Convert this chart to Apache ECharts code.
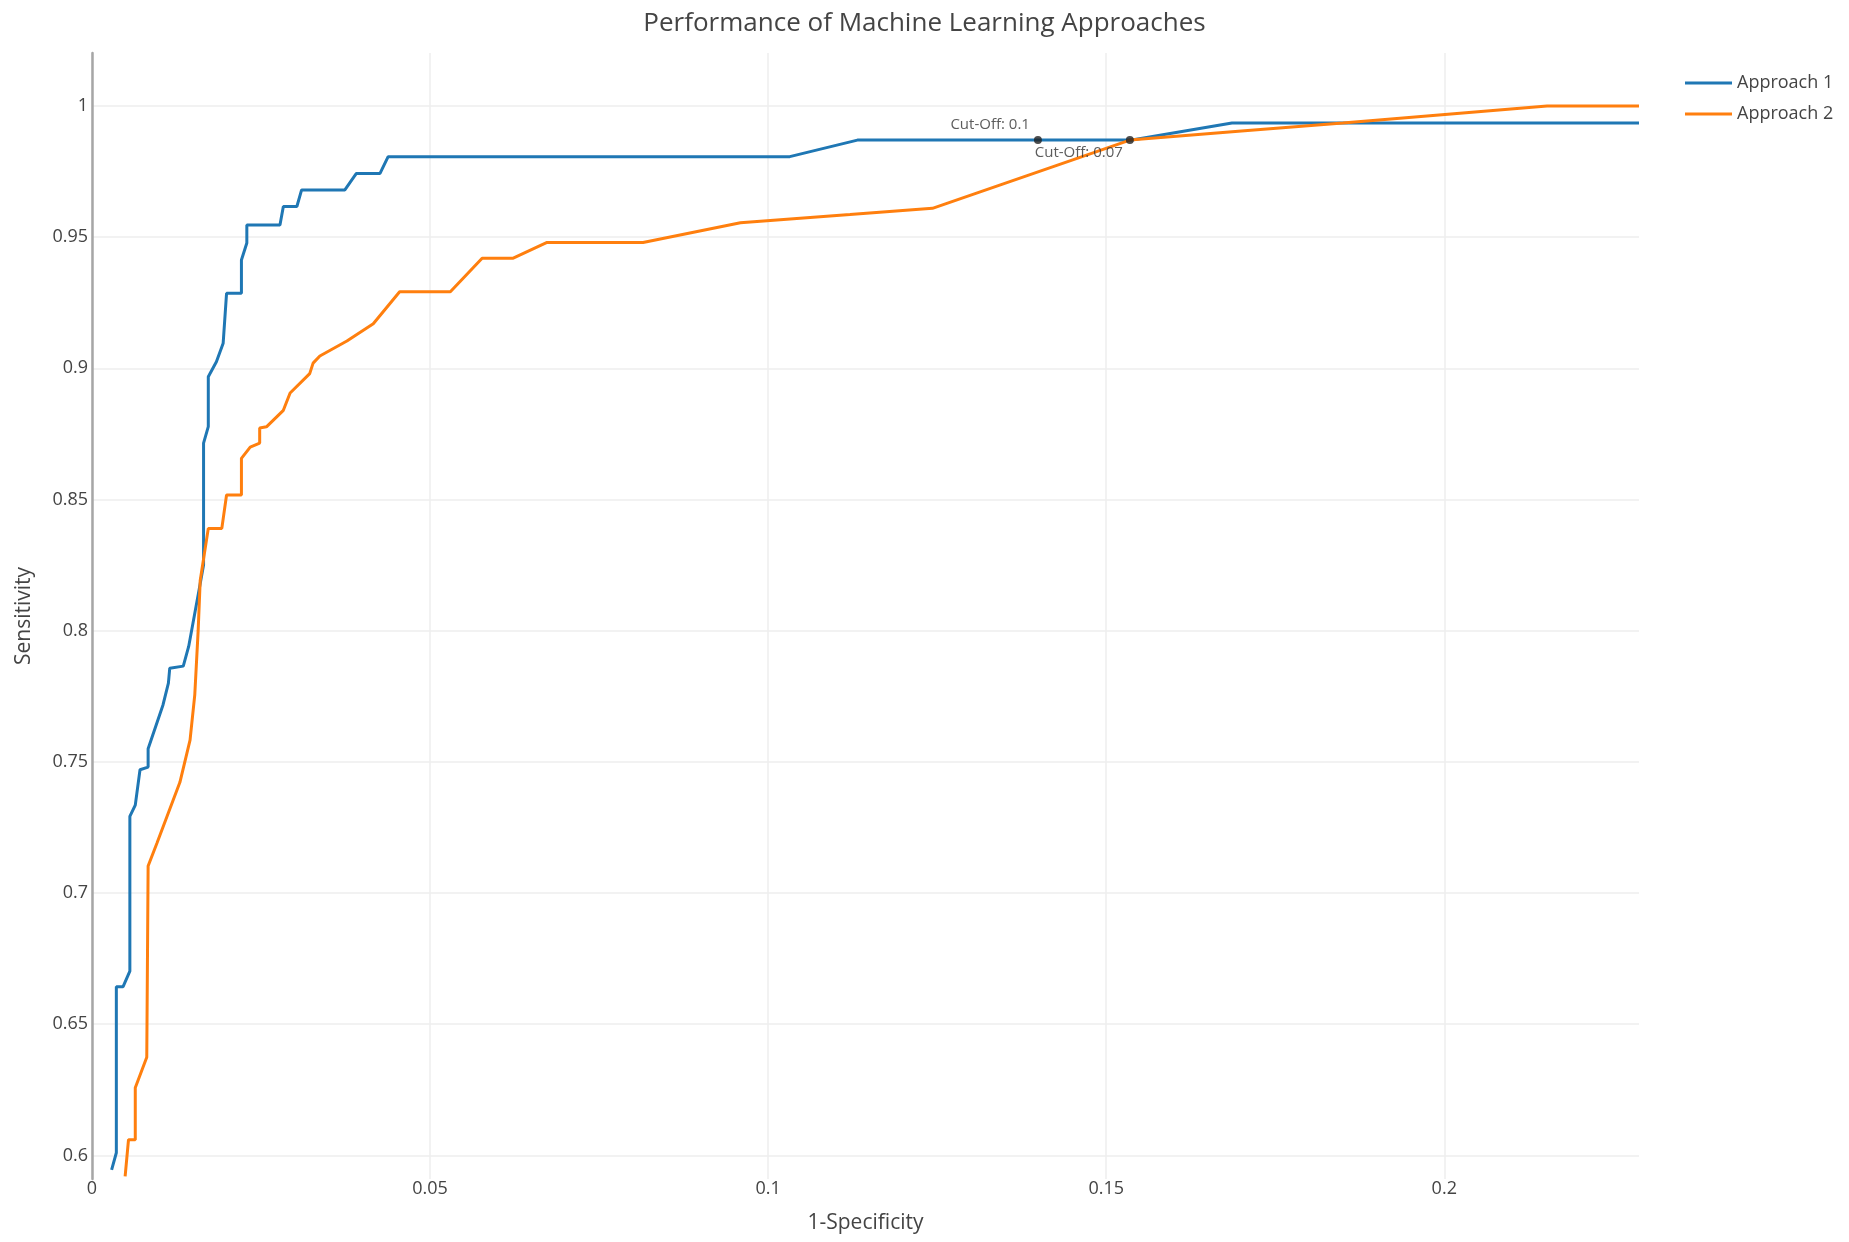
<!DOCTYPE html>
<html>
<head>
<meta charset="utf-8">
<script src="https://cdn.jsdelivr.net/npm/echarts@6/dist/echarts.min.js"></script>
<style>
html,body{margin:0;padding:0;background:#fff;}
#chart{width:1849px;height:1242px;}
</style>
</head>
<body>
<div id="chart"></div>
<script>
// Approach 1 (1-Specificity, Sensitivity)
var approach1X = [0.0029, 0.0036, 0.0036, 0.0046, 0.0056, 0.0056, 0.0064, 0.0071, 0.0083, 0.0083, 0.0105, 0.0113, 0.0115, 0.0135, 0.0143, 0.0158, 0.0165, 0.0165, 0.0172, 0.0172, 0.0184, 0.0194, 0.0199, 0.0221, 0.0221, 0.0229, 0.0229, 0.0278, 0.0283, 0.0303, 0.0310, 0.0374, 0.0391, 0.0426, 0.0438, 0.1032, 0.1132, 0.1538, 0.1686, 0.2288];
var approach1Y = [0.5945, 0.601, 0.6643, 0.6643, 0.6702, 0.7292, 0.7335, 0.747, 0.748, 0.755, 0.7717, 0.78, 0.7857, 0.7865, 0.794, 0.815, 0.825, 0.8715, 0.8778, 0.8968, 0.9025, 0.9096, 0.9286, 0.9286, 0.9413, 0.9478, 0.9546, 0.9546, 0.9617, 0.9617, 0.968, 0.968, 0.9743, 0.9743, 0.9807, 0.9807, 0.987, 0.987, 0.9935, 0.9935];
// Approach 2
var approach2X = [0.0049, 0.0054, 0.0064, 0.0064, 0.0081, 0.0083, 0.0096, 0.0130, 0.0145, 0.0152, 0.0157, 0.0160, 0.0172, 0.0192, 0.0199, 0.0221, 0.0221, 0.0234, 0.0248, 0.0248, 0.0258, 0.0283, 0.0293, 0.0322, 0.0327, 0.0337, 0.0377, 0.0416, 0.0455, 0.0530, 0.0577, 0.0623, 0.0673, 0.0815, 0.0959, 0.1121, 0.1243, 0.1535, 0.1700, 0.1850, 0.2152, 0.2288];
var approach2Y = [0.592, 0.606, 0.606, 0.6258, 0.6374, 0.7103, 0.719, 0.7422, 0.7583, 0.7755, 0.80, 0.819, 0.839, 0.839, 0.8517, 0.8517, 0.8657, 0.870, 0.8715, 0.8773, 0.8777, 0.884, 0.8906, 0.898, 0.902, 0.9047, 0.9104, 0.917, 0.9292, 0.9292, 0.942, 0.942, 0.948, 0.948, 0.9555, 0.9586, 0.961, 0.987, 0.9905, 0.9935, 1.0, 1.0];
// Cut-off points
var cutX = [0.1399, 0.1535];
var cutY = [0.987, 0.987];
var cutLabels = ['Cut-Off: 0.1', 'Cut-Off: 0.07'];
// Tick labels
var xTicks = [0, 0.05, 0.1, 0.15, 0.2];
var yTicks = [0.6, 0.65, 0.7, 0.75, 0.8, 0.85, 0.9, 0.95, 1];
var seriesNames = ['Approach 1', 'Approach 2'];

function zip(xs, ys) { return xs.map(function (x, i) { return [x, ys[i]]; }); }

var FONT = '"Open Sans", "Noto Sans", sans-serif';
var chart = echarts.init(document.getElementById('chart'), null, {renderer: 'canvas'});
var cutLabelCfg = [
  {position: 'left', distance: 4, offset: [0, -15]},
  {position: 'left', distance: 3, offset: [0, 13]}
];
chart.setOption({
  animation: false,
  backgroundColor: '#fff',
  textStyle: {fontFamily: FONT},
  title: {
    text: 'Performance of Machine Learning Approaches',
    left: 'center', top: 11, padding: 0,
    textStyle: {fontFamily: FONT, fontSize: 26, fontWeight: 'normal', color: '#444'}
  },
  legend: {
    data: seriesNames,
    orient: 'vertical',
    left: 1680, top: 68,
    itemWidth: 47, itemHeight: 3, itemGap: 11,
    icon: 'rect',
    textStyle: {fontFamily: FONT, fontSize: 18, color: '#444', lineHeight: 20}
  },
  grid: {left: 92, right: 210, top: 53, bottom: 63, containLabel: false},
  xAxis: {
    type: 'value', min: 0, max: 0.2288,
    name: '1-Specificity', nameLocation: 'middle', nameGap: 34,
    nameTextStyle: {fontFamily: FONT, fontSize: 21, color: '#444'},
    axisLine: {show: false},
    axisTick: {show: false, customValues: xTicks},
    axisLabel: {customValues: xTicks, margin: 1, fontFamily: FONT, fontSize: 18, color: '#444'},
    splitLine: {show: true, lineStyle: {color: '#eeeeee', width: 1.5}}
  },
  yAxis: {
    type: 'value', min: 0.591, max: 1.0202,
    name: 'Sensitivity', nameLocation: 'middle', nameGap: 57,
    nameTextStyle: {fontFamily: FONT, fontSize: 21, color: '#444'},
    axisLine: {show: true, lineStyle: {color: '#a6a6a6', width: 2.5}},
    axisTick: {show: false, customValues: yTicks},
    axisLabel: {customValues: yTicks, margin: 4, fontFamily: FONT, fontSize: 18, color: '#444'},
    splitLine: {show: true, lineStyle: {color: '#eeeeee', width: 1.5}}
  },
  series: [
    {
      name: seriesNames[0], type: 'line', data: zip(approach1X, approach1Y),
      showSymbol: false, symbol: 'none',
      lineStyle: {color: '#1f77b4', width: 3}, itemStyle: {color: '#1f77b4'}
    },
    {
      name: seriesNames[1], type: 'line', data: zip(approach2X, approach2Y),
      showSymbol: false, symbol: 'none',
      lineStyle: {color: '#ff7f0e', width: 3}, itemStyle: {color: '#ff7f0e'}
    },
    {
      name: 'Cut-Off', type: 'scatter', symbolSize: 8, z: 5,
      itemStyle: {color: '#222'},
      data: cutX.map(function (x, i) {
        return {
          value: [x, cutY[i]],
          label: Object.assign({
            show: true, formatter: cutLabels[i],
            fontFamily: FONT, fontSize: 15, color: '#333'
          }, cutLabelCfg[i])
        };
      })
    }
  ]
});
</script>
</body>
</html>
